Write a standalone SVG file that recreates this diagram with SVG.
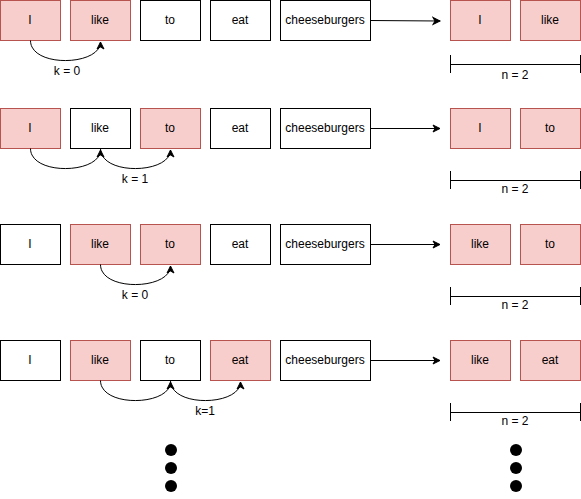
<svg xmlns="http://www.w3.org/2000/svg" width="581" height="499" viewBox="0 0 581 499">
<style>
.w{fill:#fff;stroke:#000;stroke-width:1}
.r{fill:#f8cecc;stroke:#b85450;stroke-width:1}
text{font-family:Helvetica,"Liberation Sans",Arial,sans-serif;font-size:12px;fill:#000;text-anchor:middle;dominant-baseline:central}
.c{fill:none;stroke:#000;stroke-width:1;marker-end:url(#a)}
.d{fill:none;stroke:#000;stroke-width:1}
</style>
<defs>
<marker id="a" markerWidth="10" markerHeight="10" refX="8" refY="5" orient="auto" markerUnits="userSpaceOnUse">
<path d="M1,1.5 L8,5 L1,8.5 L3,5 Z" fill="#000" stroke="#000"/>
</marker>
</defs>
<g id="r1">
<g id="r1-I"><rect class="r" x="0.5" y="0.5" width="60" height="40"/><text x="30" y="20">I</text></g>
<g id="r1-like"><rect class="r" x="70.5" y="0.5" width="60" height="40"/><text x="100" y="20">like</text></g>
<g id="r1-to"><rect class="w" x="140.5" y="0.5" width="60" height="40"/><text x="170" y="20">to</text></g>
<g id="r1-eat"><rect class="w" x="210.5" y="0.5" width="60" height="40"/><text x="240" y="20">eat</text></g>
<g id="r1-cb"><rect class="w" x="280.5" y="0.5" width="90" height="40"/><text x="325" y="20">cheeseburgers</text></g>
<g id="r1-o1"><rect class="r" x="450.5" y="0.5" width="60" height="40"/><text x="480" y="20">I</text></g>
<g id="r1-o2"><rect class="r" x="520.5" y="0.5" width="60" height="40"/><text x="550" y="20">like</text></g>
<g id="r1-n"><path class="d" d="M450.5,55 V73 M580.5,55 V73 M450.5,64.5 H580.5"/><text x="515" y="75">n = 2</text></g>
<text x="67" y="71">k = 0</text>
</g>
<g id="r2">
<g id="r2-I"><rect class="r" x="0.5" y="108.5" width="60" height="40"/><text x="30" y="128">I</text></g>
<g id="r2-like"><rect class="w" x="70.5" y="108.5" width="60" height="40"/><text x="100" y="128">like</text></g>
<g id="r2-to"><rect class="r" x="140.5" y="108.5" width="60" height="40"/><text x="170" y="128">to</text></g>
<g id="r2-eat"><rect class="w" x="210.5" y="108.5" width="60" height="40"/><text x="240" y="128">eat</text></g>
<g id="r2-cb"><rect class="w" x="280.5" y="108.5" width="90" height="40"/><text x="325" y="128">cheeseburgers</text></g>
<g id="r2-o1"><rect class="r" x="450.5" y="108.5" width="60" height="40"/><text x="480" y="128">I</text></g>
<g id="r2-o2"><rect class="r" x="520.5" y="108.5" width="60" height="40"/><text x="550" y="128">to</text></g>
<g id="r2-n"><path class="d" d="M450.5,171 V189 M580.5,171 V189 M450.5,180.5 H580.5"/><text x="515" y="189">n = 2</text></g>
<text x="135" y="179">k = 1</text>
</g>
<g id="r3">
<g id="r3-I"><rect class="w" x="0.5" y="224.5" width="60" height="40"/><text x="30" y="244">I</text></g>
<g id="r3-like"><rect class="r" x="70.5" y="224.5" width="60" height="40"/><text x="100" y="244">like</text></g>
<g id="r3-to"><rect class="r" x="140.5" y="224.5" width="60" height="40"/><text x="170" y="244">to</text></g>
<g id="r3-eat"><rect class="w" x="210.5" y="224.5" width="60" height="40"/><text x="240" y="244">eat</text></g>
<g id="r3-cb"><rect class="w" x="280.5" y="224.5" width="90" height="40"/><text x="325" y="244">cheeseburgers</text></g>
<g id="r3-o1"><rect class="r" x="450.5" y="224.5" width="60" height="40"/><text x="480" y="244">like</text></g>
<g id="r3-o2"><rect class="r" x="520.5" y="224.5" width="60" height="40"/><text x="550" y="244">to</text></g>
<g id="r3-n"><path class="d" d="M450.5,287 V305 M580.5,287 V305 M450.5,296.5 H580.5"/><text x="515" y="305">n = 2</text></g>
<text x="135" y="295">k = 0</text>
</g>
<g id="r4">
<g id="r4-I"><rect class="w" x="0.5" y="340.5" width="60" height="40"/><text x="30" y="360">I</text></g>
<g id="r4-like"><rect class="r" x="70.5" y="340.5" width="60" height="40"/><text x="100" y="360">like</text></g>
<g id="r4-to"><rect class="w" x="140.5" y="340.5" width="60" height="40"/><text x="170" y="360">to</text></g>
<g id="r4-eat"><rect class="r" x="210.5" y="340.5" width="60" height="40"/><text x="240" y="360">eat</text></g>
<g id="r4-cb"><rect class="w" x="280.5" y="340.5" width="90" height="40"/><text x="325" y="360">cheeseburgers</text></g>
<g id="r4-o1"><rect class="r" x="450.5" y="340.5" width="60" height="40"/><text x="480" y="360">like</text></g>
<g id="r4-o2"><rect class="r" x="520.5" y="340.5" width="60" height="40"/><text x="550" y="360">eat</text></g>
<g id="r4-n"><path class="d" d="M450.5,403 V421 M580.5,403 V421 M450.5,412.5 H580.5"/><text x="515" y="421">n = 2</text></g>
<text x="205" y="411">k=1</text>
</g>
<g id="dots">
<circle cx="171" cy="450" r="6" fill="#000"/><circle cx="171" cy="468" r="6" fill="#000"/><circle cx="171" cy="486" r="6" fill="#000"/>
<circle cx="516" cy="450" r="6" fill="#000"/><circle cx="516" cy="468" r="6" fill="#000"/><circle cx="516" cy="486" r="6" fill="#000"/>
</g>
<g id="connectors">
<path class="c" d="M370.5,20.5 L440,21"/>
<path class="c" d="M370.5,128.5 L440,128.5"/>
<path class="c" d="M370.5,244.5 L440,244.5"/>
<path class="c" d="M370.5,360.5 L440,360.5"/>
<path class="c" d="M30.5,40.5 C30.5,68 100.5,66 100.5,42"/>
<path class="c" d="M30.5,148.5 C30.5,176 100.5,174 100.5,150"/>
<path class="c" d="M100.5,148.5 C100.5,176 170.5,174 170.5,150"/>
<path class="c" d="M100.5,264.5 C100.5,292 170.5,290 170.5,266"/>
<path class="c" d="M100.5,380.5 C100.5,408 170.5,406 170.5,382"/>
<path class="c" d="M170.5,380.5 C170.5,408 240.5,406 240.5,382"/>
</g>
</svg>
